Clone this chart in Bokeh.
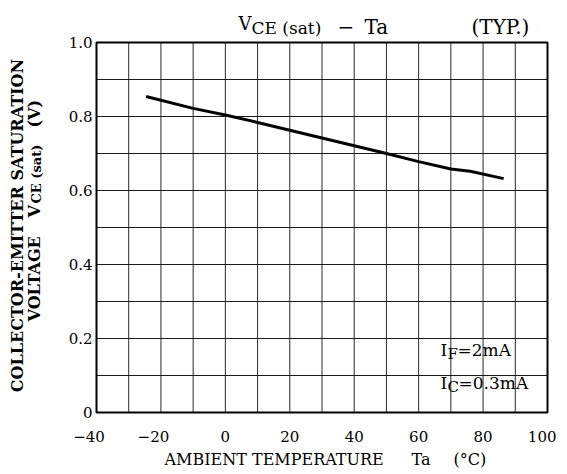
import math
from bokeh.plotting import figure
from bokeh.models import FixedTicker, Label, Range1d
from bokeh.embed import file_html
from bokeh.resources import INLINE

# ---- data ----
ta = [-24.6, -10, 0, 10, 20, 30, 40, 50, 60, 70, 76, 86.4]
vce = [0.854, 0.822, 0.804, 0.784, 0.763, 0.742, 0.721, 0.700, 0.678, 0.658, 0.652, 0.632]
x_ticks = [-40, -30, -20, -10, 0, 10, 20, 30, 40, 50, 60, 70, 80, 90, 100]
x_tick_labels = {-40: "\u221240", -20: "\u221220", 0: "0", 20: "20", 40: "40",
                 60: "60", 80: "80", 100: "100"}
y_ticks = [0, 0.1, 0.2, 0.3, 0.4, 0.5, 0.6, 0.7, 0.8, 0.9, 1.0]
y_tick_labels = {0: "0", 0.2: "0.2", 0.4: "0.4", 0.6: "0.6", 0.8: "0.8", 1.0: "1.0"}

# ---- layout (page pixels) ----
W, H = 556, 470
OFF = 1                       # canvas origin on the page
FL, FR, FT, FB = 97, 548, 43, 413   # chart box edges on the page
FONT = "DejaVu Serif"
EM = "\u2003"

x0, x1 = x_ticks[0], x_ticks[-1]
y0, y1 = y_ticks[0], y_ticks[-1]
sx = (FR - FL) / (x1 - x0)
sy = (FB - FT) / (y1 - y0)
xr = Range1d(x0 - (FL - OFF) / sx, x1 + (W - (FR - OFF)) / sx)
yr = Range1d(y0 - (H - (FB - OFF)) / sy, y1 + (FT - OFF) / sy)

p = figure(width=W, height=H, output_backend="svg", toolbar_location=None,
           x_range=xr, y_range=yr,
           min_border_left=0, min_border_right=0, min_border_top=0, min_border_bottom=0)
p.outline_line_color = None
p.grid.visible = False

# axes drawn at the chart box edges
p.xaxis.fixed_location = y0
p.yaxis.fixed_location = x0
p.xaxis.ticker = FixedTicker(ticks=x_ticks)
p.yaxis.ticker = FixedTicker(ticks=y_ticks)
p.xaxis.major_label_overrides = {
    k: (x_tick_labels[k] + EM if x_tick_labels.get(k, "").startswith("\u2212") else x_tick_labels.get(k, ""))
    for k in x_ticks}
p.yaxis.major_label_overrides = {k: y_tick_labels.get(k, "") for k in y_ticks}
for ax in (p.xaxis, p.yaxis):
    ax.axis_line_color = None
    ax.major_tick_line_color = None
    ax.minor_tick_line_color = None
    ax.major_tick_out = 0
    ax.major_tick_in = 0
    ax.minor_tick_out = 0
    ax.minor_tick_in = 0
    ax.major_label_text_font = FONT
    ax.major_label_text_font_size = "15px"
    ax.major_label_text_color = "black"
p.xaxis.major_label_standoff = 15
p.yaxis.major_label_standoff = 4

# grid lines from the tick lists
p.segment(x0=x_ticks[1:-1], y0=[y0] * (len(x_ticks) - 2), x1=x_ticks[1:-1], y1=[y1] * (len(x_ticks) - 2),
          line_color="#2a2a2a", line_width=1)
p.segment(x0=[x0] * (len(y_ticks) - 2), y0=y_ticks[1:-1], x1=[x1] * (len(y_ticks) - 2), y1=y_ticks[1:-1],
          line_color="#1a1a1a", line_width=1)
p.quad(left=[x0], right=[x1], bottom=[y0], top=[y1], fill_color=None,
       line_color="black", line_width=2)

# curve
p.line(ta, vce, line_color="black", line_width=3)


def lab(px, py, text, size, angle=0, align="left", bold=False):
    p.add_layout(Label(x=px - OFF, y=py - OFF, x_units="canvas", y_units="canvas",
                       text=text, text_font=FONT, text_font_size=f"{size}px",
                       text_align=align, text_baseline="alphabetic", angle=angle,
                       text_color="black", text_font_style="bold" if bold else "normal"))

# title
lab(239, 24, "V", 18)
lab(252, 28, "CE (sat)", 17)
lab(338, 27, "\u2212", 20)
lab(365, 27, "Ta", 20)
lab(472, 27, "(TYP.)", 20)

# x axis title
lab(165, 460, "AMBIENT TEMPERATURE", 16)
lab(412, 460, "Ta", 16)
lab(454, 460, "(\u00b0C)", 16)

# y axis title (rotated, reads upward)
r = math.pi / 2
lab(18, 226, "COLLECTOR-EMITTER SATURATION", 16, angle=r, align="center", bold=True)
lab(35, 322, "VOLTAGE", 16, angle=r, bold=True)
lab(35, 218, "V", 16, angle=r, bold=True)
lab(37, 204, "CE (sat)", 13, angle=r, bold=True)
lab(35, 128, "(V)", 16, angle=r, bold=True)

# conditions
lab(441, 350, "I", 17)
lab(448, 354, "F", 15)
lab(458, 350, "=2mA", 17)
lab(441, 383, "I", 17)
lab(448, 387, "C", 15)
lab(459, 383, "=0.3mA", 17)

open("out.html", "w").write(file_html(p, INLINE))
